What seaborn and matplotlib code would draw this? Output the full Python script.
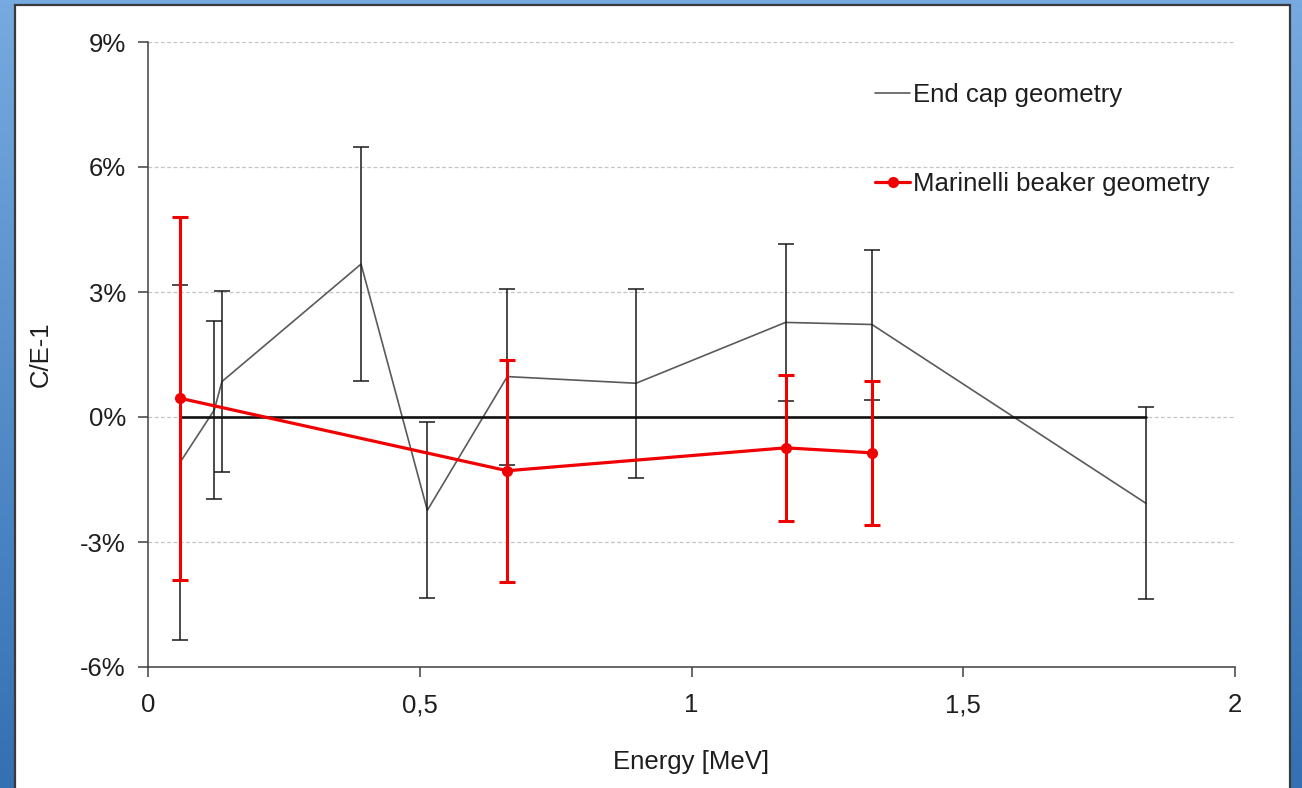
import numpy as np
import pandas as pd
import matplotlib
matplotlib.use("Agg")
import matplotlib.pyplot as plt
from matplotlib.patches import Rectangle
import seaborn as sns

# ---------------- data ----------------
energy_endcap = [0.059, 0.122, 0.136, 0.392, 0.514, 0.661, 0.898, 1.173, 1.332, 1.836]
ce_endcap = [-1.09, 0.17, 0.85, 3.67, -2.24, 0.97, 0.81, 2.27, 2.22, -2.07]
err_endcap = [4.27, 2.14, 2.17, 2.80, 2.11, 2.11, 2.27, 1.88, 1.80, 2.30]

energy_marinelli = [0.059, 0.661, 1.173, 1.332]
ce_marinelli = [0.45, -1.29, -0.74, -0.86]
err_marinelli = [4.35, 2.67, 1.76, 1.73]

zero_ref = [0.0] * len(energy_endcap)

y_ticks = [-6, -3, 0, 3, 6, 9]
y_tick_labels = ["-6%", "-3%", "0%", "3%", "6%", "9%"]
x_ticks = [0, 0.5, 1, 1.5, 2]
x_tick_labels = ["0", "0,5", "1", "1,5", "2"]

label_endcap = "End cap geometry"
label_marinelli = "Marinelli beaker geometry"
x_label = "Energy [MeV]"
y_label = "C/E-1"

df_endcap = pd.DataFrame({"E": energy_endcap, "CE": ce_endcap, "err": err_endcap})
df_mar = pd.DataFrame({"E": energy_marinelli, "CE": ce_marinelli, "err": err_marinelli})
df_zero = pd.DataFrame({"E": energy_endcap, "CE": zero_ref})

# ---------------- style ----------------
sns.set_theme(style="white")
plt.rcParams["font.family"] = ["Liberation Sans", "DejaVu Sans"]
FS = 18.5
TXT = "#1e1e1e"

W, H = 1302, 788
fig = plt.figure(figsize=(W / 100, H / 100), dpi=100)

# background: blue gradient + white slide panel
bg = fig.add_axes([0, 0, 1, 1], zorder=-10)
bg.set_xlim(0, W)
bg.set_ylim(H, 0)
bg.axis("off")
top_c = np.array([118, 170, 224]) / 255
bot_c = np.array([52, 112, 178]) / 255
t = np.linspace(0, 1, 256)[:, None, None]
grad = top_c * (1 - t) + bot_c * t
grad = np.repeat(grad, 4, axis=1)
bg.imshow(grad, extent=[0, W, H, 0], aspect="auto")
bg.add_patch(Rectangle((14.5, 4.5), 1275, 800, facecolor="white",
                       edgecolor="#3a3a3a", lw=1.6))

# main axes (pixel box 148..1235 x 42..667)
ax = fig.add_axes([148 / W, (H - 667) / H, (1235 - 148) / W, (667 - 42) / H])
ax.set_facecolor("none")

# gray end-cap line
sns.lineplot(data=df_endcap, x="E", y="CE", ax=ax, color="#5a5a5a", lw=1.2,
             label=label_endcap, zorder=3)
ax.errorbar(df_endcap["E"], df_endcap["CE"], yerr=df_endcap["err"], fmt="none",
            ecolor="#1a1a1a", elinewidth=1.1, capsize=5.5, capthick=1.1, zorder=4)

# zero reference line
sns.lineplot(data=df_zero, x="E", y="CE", ax=ax, color="#111111", lw=1.9,
             zorder=5, legend=False)

# red Marinelli series
ax.errorbar(df_mar["E"], df_mar["CE"], yerr=df_mar["err"], fmt="none",
            ecolor="#f00000", elinewidth=2.2, capsize=5.5, capthick=2.2, zorder=6)
sns.lineplot(data=df_mar, x="E", y="CE", ax=ax, color="#f00000", lw=2.3,
             marker="o", markersize=8, markeredgewidth=0,
             label=label_marinelli, zorder=7)

# axes styling
ax.set_xlim(0, 2)
ax.set_ylim(-6, 9)
ax.set_xticks(x_ticks)
ax.set_xticklabels(x_tick_labels)
ax.set_yticks(y_ticks)
ax.set_yticklabels(y_tick_labels)
ax.tick_params(axis="both", direction="out", length=7, width=1.1,
               color="#404040", labelsize=FS, labelcolor=TXT, pad=9,
               left=True, bottom=True)
ax.tick_params(axis="x", pad=12)
for s in ["top", "right"]:
    ax.spines[s].set_visible(False)
for s in ["left", "bottom"]:
    ax.spines[s].set_color("#404040")
    ax.spines[s].set_linewidth(1.1)
ax.yaxis.grid(True, color="#c4c4c4", lw=0.9, linestyle=(0, (3, 2)))
ax.xaxis.grid(False)
ax.set_axisbelow(True)

ax.set_xlabel(x_label, fontsize=FS, color=TXT)
ax.set_ylabel(y_label, fontsize=FS, color=TXT)
ax.xaxis.set_label_coords(0.5, -0.132)
ax.yaxis.set_label_coords(-0.088, 0.5)

leg = ax.legend(loc="upper left", bbox_to_anchor=(0.669, 0.934), frameon=False,
                fontsize=FS, handlelength=1.36, handletextpad=0.12,
                labelspacing=2.53, borderpad=0, borderaxespad=0)
for txt in leg.get_texts():
    txt.set_color(TXT)

fig.savefig("out.png", dpi=100)
